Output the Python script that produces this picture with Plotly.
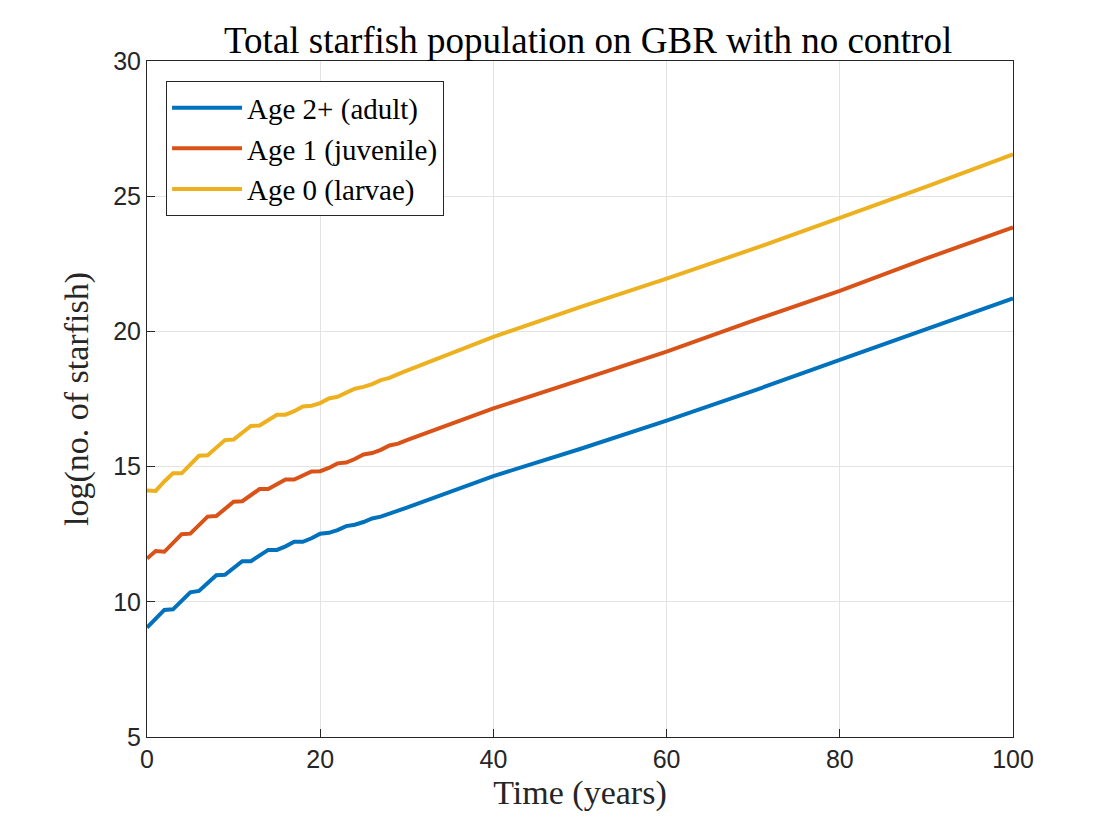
import plotly.graph_objects as go

years = [0,1,2,3,4,5,6,7,8,9,10,11,12,13,14,15,16,17,18,19,20,21,22,23,24,25,26,27,28,29,30,40,50,60,70,80,90,100]
adult = [9.05,9.4,9.7,9.72,10.05,10.35,10.4,10.7,10.98,11.0,11.25,11.5,11.5,11.7,11.92,11.92,12.05,12.22,12.22,12.35,12.52,12.55,12.65,12.8,12.85,12.95,13.08,13.15,13.25,13.38,13.48,14.65,15.65,16.7,17.8,18.95,20.1,21.22]
juvenile = [11.6,11.88,11.85,12.2,12.5,12.52,12.85,13.15,13.17,13.45,13.7,13.72,13.95,14.17,14.17,14.35,14.52,14.52,14.65,14.82,14.83,14.95,15.12,15.15,15.28,15.45,15.5,15.62,15.78,15.85,15.98,17.15,18.2,19.25,20.4,21.5,22.7,23.85]
larvae = [14.12,14.1,14.45,14.75,14.75,15.1,15.4,15.42,15.7,15.98,16.0,16.25,16.5,16.52,16.7,16.92,16.92,17.05,17.22,17.25,17.35,17.52,17.58,17.72,17.88,17.95,18.05,18.2,18.28,18.42,18.55,19.8,20.9,21.95,23.05,24.2,25.35,26.55]

names = ["Age 2+ (adult)", "Age 1 (juvenile)", "Age 0 (larvae)"]
colors = ["#0072BD", "#D95319", "#EDB120"]

fig = go.Figure()
for n, c, y in zip(names, colors, [adult, juvenile, larvae]):
    fig.add_trace(go.Scatter(x=years, y=y, mode="lines", name=n, line=dict(color=c, width=4)))

serif = "Liberation Serif"
ax = dict(showline=True, linecolor="#262626", linewidth=1, mirror=True, ticks="inside", ticklen=8,
          tickcolor="#262626", showgrid=True, gridcolor="#e3e3e3", zeroline=False,
          tickfont=dict(family="Liberation Sans", size=25, color="#262626"))
fig.update_layout(
    width=1120, height=840, paper_bgcolor="white", plot_bgcolor="white",
    margin=dict(l=139, r=115, t=53, b=111),
    title=dict(text="Total starfish population on GBR with no control", x=0.518, xanchor="center",
               y=0.962, yanchor="middle", font=dict(family=serif, size=37, color="black")),
    xaxis=dict(ax, range=[0, 100], dtick=20,
               title=dict(text="Time (years)", font=dict(family=serif, size=34, color="#262626"), standoff=8)),
    yaxis=dict(ax, range=[5, 30], dtick=5,
               title=dict(text="log(no. of starfish)", font=dict(family=serif, size=34, color="#262626"), standoff=14)),
    legend=dict(x=0.022, y=0.97, xanchor="left", yanchor="top", bgcolor="white",
                bordercolor="#262626", borderwidth=1, font=dict(family=serif, size=29, color="black"),
                itemwidth=70, tracegroupgap=0),
    showlegend=True,
)
fig.write_html("out.html")
